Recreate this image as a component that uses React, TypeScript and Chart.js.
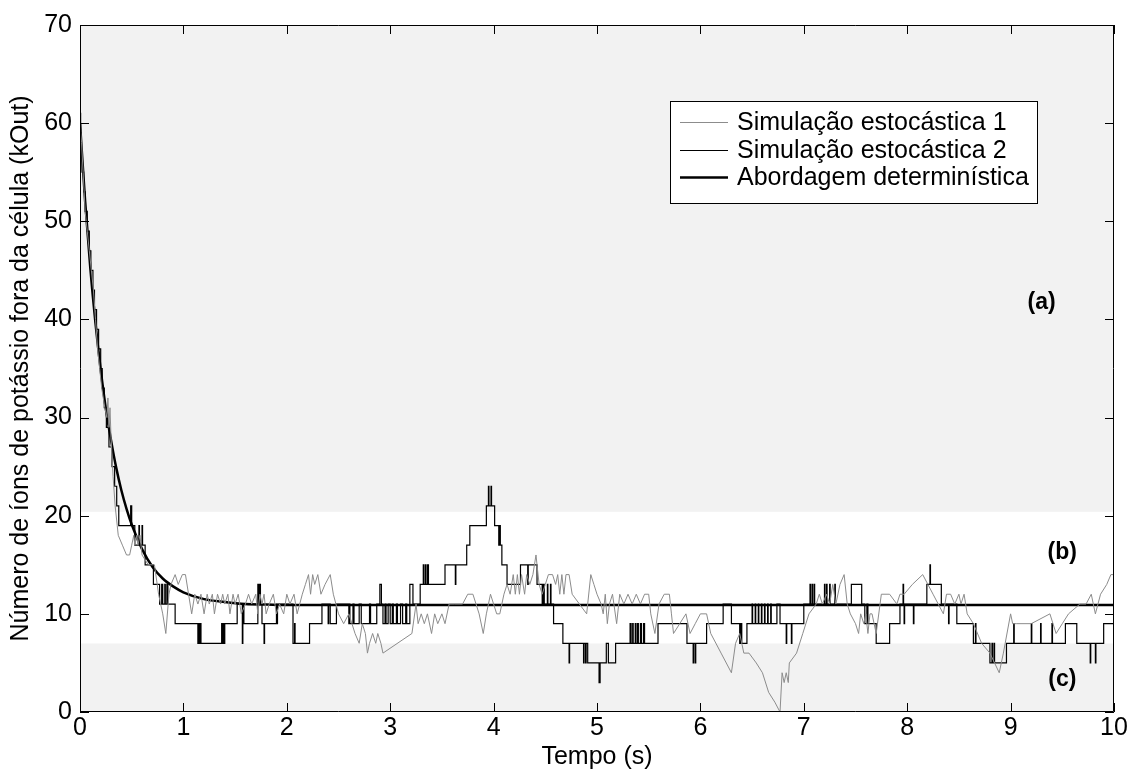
import React, { useEffect, useRef } from "react";
import { Chart, registerables } from "chart.js";

Chart.register(...registerables);

// ---------- DATA ----------
const xTicks = [0, 1, 2, 3, 4, 5, 6, 7, 8, 9, 10];
const yTicks = [0, 10, 20, 30, 40, 50, 60, 70];

const seriesLabels = [
  "Simulação estocástica 1",
  "Simulação estocástica 2",
  "Abordagem determinística",
];

// zone bands (value limits) for (c), (b), (a)
const bandLimits = [0, 7, 20.4, 70];
const zoneLabels = ["(c)", "(b)", "(a)"];
const zoneLabelT = [9.5, 9.5, 9.3];
const zoneLabelY = [3.3, 16.2, 41.7];

// deterministic approach
const detT = [0, 0.05, 0.1, 0.15, 0.2, 0.25, 0.3, 0.35, 0.4, 0.45, 0.5, 0.6, 0.7, 0.8, 0.9, 1.0, 1.2, 1.4, 1.6, 1.8, 2.0, 2.5, 3, 4, 5, 6, 7, 8, 9, 10];
const detY = [60.0, 52.0, 45.2, 39.6, 34.9, 30.9, 27.7, 24.9, 22.6, 20.7, 19.1, 16.6, 14.8, 13.6, 12.8, 12.2, 11.5, 11.2, 11.0, 10.95, 10.9, 10.9, 10.9, 10.9, 10.9, 10.9, 10.9, 10.9, 10.9, 10.9];

// stochastic simulation 1 (grey)
const s1T = [0, 0.015, 0.03, 0.05, 0.07, 0.09, 0.11, 0.13, 0.15, 0.17, 0.19, 0.21, 0.24, 0.26, 0.27, 0.28, 0.29, 0.3, 0.32, 0.34, 0.36, 0.37, 0.41, 0.45, 0.48, 0.5, 0.52, 0.53, 0.55, 0.56, 0.58, 0.6, 0.66, 0.72, 0.76, 0.8, 0.83, 0.86, 0.88, 0.92, 0.95, 0.99, 1.02, 1.05, 1.08, 1.11, 1.14, 1.17, 1.2, 1.23, 1.25, 1.28, 1.3, 1.33, 1.36, 1.38, 1.4, 1.43, 1.45, 1.48, 1.5, 1.53, 1.56, 1.6, 1.63, 1.66, 1.7, 1.72, 1.74, 1.76, 1.78, 1.8, 1.83, 1.87, 1.9, 1.93, 1.97, 2.0, 2.03, 2.07, 2.1, 2.15, 2.18, 2.21, 2.23, 2.25, 2.27, 2.3, 2.33, 2.37, 2.42, 2.45, 2.5, 2.55, 2.6, 2.63, 2.66, 2.7, 2.73, 2.76, 2.78, 2.8, 2.83, 2.86, 2.88, 2.91, 2.93, 3.21, 3.25, 3.27, 3.3, 3.33, 3.36, 3.4, 3.43, 3.46, 3.5, 3.53, 3.57, 3.62, 3.7, 3.75, 3.8, 3.83, 3.86, 3.9, 3.93, 3.97, 4.0, 4.03, 4.06, 4.1, 4.13, 4.16, 4.19, 4.21, 4.23, 4.25, 4.27, 4.3, 4.32, 4.35, 4.38, 4.41, 4.44, 4.47, 4.5, 4.53, 4.57, 4.6, 4.62, 4.64, 4.66, 4.68, 4.7, 4.73, 4.76, 4.83, 4.9, 4.94, 4.97, 5.0, 5.04, 5.06, 5.08, 5.1, 5.12, 5.15, 5.19, 5.22, 5.26, 5.3, 5.34, 5.38, 5.42, 5.46, 5.5, 5.52, 5.56, 5.6, 5.65, 5.7, 5.72, 5.74, 5.8, 5.86, 5.9, 5.95, 6.0, 6.06, 6.1, 6.2, 6.3, 6.34, 6.38, 6.42, 6.47, 6.54, 6.6, 6.66, 6.72, 6.77, 6.79, 6.81, 6.83, 6.85, 6.86, 6.93, 6.99, 7.05, 7.12, 7.15, 7.18, 7.22, 7.25, 7.28, 7.31, 7.35, 7.39, 7.42, 7.45, 7.5, 7.53, 7.55, 7.58, 7.6, 7.62, 7.64, 7.66, 7.7, 7.75, 7.83, 7.9, 7.93, 7.97, 8.05, 8.15, 8.2, 8.25, 8.3, 8.35, 8.38, 8.42, 8.46, 8.5, 8.52, 8.55, 8.58, 8.64, 8.72, 8.8, 8.89, 8.93, 9.0, 9.02, 9.06, 9.2, 9.38, 9.44, 9.5, 9.56, 9.67, 9.73, 9.78, 9.82, 9.87, 9.93, 9.97, 10];
const s1Y = [60, 58, 55, 51, 49, 47, 45, 43, 40, 37, 35, 33, 31, 30, 32, 29, 31, 28, 24, 21, 19, 18, 17, 16, 16, 17, 18, 17, 18, 17, 18, 16, 15, 15, 12, 10, 8, 12, 13, 14, 13, 14, 14, 12, 10, 12, 11, 12, 10, 12, 11, 12, 10, 12, 11, 12, 11, 12, 10, 12, 11, 12, 10, 11, 12, 11, 12, 10, 12, 11, 12, 10, 11, 12, 10, 11, 10, 12, 11, 12, 10, 12, 13, 14, 12, 14, 13, 14, 12, 13, 14, 12, 10, 9, 10, 9, 8, 7, 9, 8, 6, 7, 8, 7, 8, 7, 6, 8, 11, 9, 10, 9, 10, 8, 10, 9, 10, 9, 11, 11, 11, 12, 12, 11, 10, 8, 10, 12, 11, 10, 10, 12, 13, 12, 14, 12, 14, 12, 14, 12, 14, 13, 14, 16, 13, 12, 13, 14, 14, 13, 14, 12, 14, 12, 14, 14, 12, 11, 10, 14, 13, 12, 11, 10, 12, 9, 11, 12, 9, 12, 11, 12, 11, 12, 11, 12, 12, 10, 8, 11, 12, 12, 10, 8, 9, 10, 8, 9, 10, 10, 8, 6, 4, 7, 8, 6, 6, 5, 4, 2, 1, 0, 4, 3, 4, 3, 5, 6, 8, 10, 11, 12, 11, 12, 11, 13, 11, 13, 14, 11, 10, 9, 8, 10, 9, 10, 8, 10, 10, 8, 12, 12, 11, 12, 12, 13, 14, 13, 12, 11, 10, 12, 12, 11, 12, 11, 12, 10, 9, 7, 6, 4, 6, 10, 9, 9, 9, 10, 8, 9, 10, 11, 11, 12, 10, 12, 13, 14, 14];

// stochastic simulation 2 (black, stairs)
const s2T = [0, 0.006, 0.012, 0.02, 0.035, 0.05, 0.07, 0.09, 0.105, 0.125, 0.14, 0.16, 0.18, 0.2, 0.215, 0.235, 0.255, 0.28, 0.31, 0.335, 0.355, 0.375, 0.49, 0.5, 0.53, 0.57, 0.575, 0.6, 0.605, 0.63, 0.71, 0.77, 0.79, 0.8, 0.82, 0.825, 0.84, 0.85, 0.92, 1.14, 1.15, 1.155, 1.165, 1.17, 1.37, 1.375, 1.385, 1.39, 1.4, 1.52, 1.57, 1.575, 1.585, 1.72, 1.73, 1.735, 1.745, 1.76, 1.78, 1.785, 1.9, 1.905, 1.91, 2.06, 2.075, 2.08, 2.22, 2.34, 2.4, 2.405, 2.42, 2.48, 2.6, 2.605, 2.61, 2.64, 2.65, 2.7, 2.72, 2.8, 2.81, 2.87, 2.9, 2.915, 2.93, 2.95, 2.96, 2.98, 3.0, 3.02, 3.03, 3.06, 3.07, 3.1, 3.12, 3.15, 3.16, 3.19, 3.22, 3.29, 3.32, 3.325, 3.34, 3.345, 3.36, 3.37, 3.53, 3.63, 3.635, 3.74, 3.77, 3.93, 3.95, 3.955, 3.975, 3.98, 4.01, 4.05, 4.06, 4.065, 4.08, 4.13, 4.26, 4.33, 4.335, 4.42, 4.47, 4.48, 4.49, 4.52, 4.525, 4.55, 4.555, 4.58, 4.67, 4.73, 4.735, 4.87, 4.875, 4.89, 4.895, 4.91, 5.02, 5.03, 5.09, 5.11, 5.18, 5.32, 5.33, 5.345, 5.35, 5.37, 5.375, 5.39, 5.4, 5.42, 5.43, 5.45, 5.46, 5.59, 5.87, 5.93, 5.935, 5.95, 5.955, 6.06, 6.22, 6.3, 6.38, 6.39, 6.4, 6.45, 6.5, 6.505, 6.53, 6.535, 6.56, 6.565, 6.59, 6.595, 6.62, 6.625, 6.65, 6.655, 6.68, 6.685, 6.74, 6.77, 6.83, 6.835, 6.88, 6.885, 7.0, 7.06, 7.065, 7.08, 7.085, 7.1, 7.105, 7.2, 7.205, 7.22, 7.225, 7.25, 7.255, 7.3, 7.305, 7.46, 7.56, 7.59, 7.61, 7.62, 7.7, 7.83, 7.93, 7.96, 7.965, 7.97, 7.975, 8.06, 8.065, 8.19, 8.22, 8.225, 8.33, 8.4, 8.405, 8.48, 8.64, 8.66, 8.665, 8.8, 8.82, 8.825, 8.84, 8.845, 8.96, 9.03, 9.035, 9.2, 9.205, 9.29, 9.295, 9.4, 9.405, 9.53, 9.64, 9.77, 9.775, 9.82, 9.825, 9.9, 10];
const s2Y = [61, 59, 57, 55, 53, 51, 49, 47, 45, 43, 41, 39, 37, 35, 33, 31, 29, 27, 25, 23, 21, 19, 21, 19, 17, 19, 17, 19, 17, 15, 13, 11, 13, 11, 13, 11, 13, 11, 9, 7, 9, 7, 9, 7, 9, 7, 9, 7, 9, 11, 7, 11, 9, 13, 11, 13, 11, 9, 7, 9, 11, 9, 11, 7, 9, 7, 9, 11, 9, 11, 9, 11, 9, 11, 9, 11, 9, 11, 9, 11, 9, 11, 13, 11, 9, 11, 9, 11, 9, 11, 9, 11, 9, 11, 9, 11, 9, 13, 11, 13, 15, 13, 15, 13, 15, 13, 15, 13, 15, 17, 19, 21, 23, 21, 23, 21, 19, 17, 19, 17, 15, 13, 15, 13, 15, 13, 11, 13, 11, 13, 11, 13, 11, 9, 7, 5, 7, 5, 7, 5, 7, 5, 3, 5, 7, 5, 7, 9, 7, 9, 7, 9, 7, 9, 7, 9, 7, 9, 7, 9, 7, 5, 7, 5, 7, 9, 11, 9, 7, 9, 7, 9, 11, 9, 11, 9, 11, 9, 11, 9, 11, 9, 11, 9, 11, 9, 11, 9, 7, 9, 7, 9, 11, 13, 11, 13, 11, 13, 11, 13, 11, 13, 11, 13, 11, 13, 11, 13, 11, 9, 11, 9, 7, 9, 11, 13, 11, 9, 11, 9, 11, 13, 15, 13, 11, 9, 11, 9, 7, 9, 7, 5, 7, 5, 7, 5, 7, 9, 7, 9, 7, 9, 7, 9, 7, 9, 7, 5, 7, 5, 7, 9, 9];

// ---------- STYLE ----------
const FONT = "'Liberation Sans', Arial, Helvetica, sans-serif";
const GREY_LINE = "#8c8c8c";
const BAND_COLORS = ["#f2f2f2", "#ffffff", "#f2f2f2"];

const toPts = (t: number[], y: number[]) => t.map((x, i) => ({ x, y: y[i] }));

const decorPlugin = {
  id: "decor",
  beforeDatasetsDraw(chart: any) {
    const { ctx, chartArea } = chart;
    const ys = chart.scales.y;
    ctx.save();
    for (let i = 0; i < bandLimits.length - 1; i++) {
      const yTop = ys.getPixelForValue(bandLimits[i + 1]);
      const yBot = ys.getPixelForValue(bandLimits[i]);
      ctx.fillStyle = BAND_COLORS[i];
      ctx.fillRect(chartArea.left, yTop, chartArea.right - chartArea.left, yBot - yTop);
    }
    ctx.restore();
  },
  afterDatasetsDraw(chart: any) {
    const { ctx, chartArea } = chart;
    const xs = chart.scales.x;
    const ys = chart.scales.y;
    const { left, right, top, bottom } = chartArea;
    const tl = 9;
    ctx.save();
    // zone labels
    ctx.fillStyle = "#000";
    ctx.font = `bold 23px ${FONT}`;
    ctx.textAlign = "center";
    ctx.textBaseline = "middle";
    for (let i = 0; i < zoneLabels.length; i++) {
      ctx.fillText(zoneLabels[i], xs.getPixelForValue(zoneLabelT[i]), ys.getPixelForValue(zoneLabelY[i]));
    }
    // axes box and inward ticks
    ctx.strokeStyle = "#000";
    ctx.lineWidth = 1;
    ctx.beginPath();
    ctx.rect(left + 0.5, top + 0.5, right - left - 1, bottom - top - 1);
    for (const v of xTicks) {
      const px = Math.round(xs.getPixelForValue(v)) + 0.5;
      ctx.moveTo(px, bottom);
      ctx.lineTo(px, bottom - tl);
      ctx.moveTo(px, top);
      ctx.lineTo(px, top + tl);
    }
    for (const v of yTicks) {
      const py = Math.round(ys.getPixelForValue(v)) + 0.5;
      ctx.moveTo(left, py);
      ctx.lineTo(left + tl, py);
      ctx.moveTo(right, py);
      ctx.lineTo(right - tl, py);
    }
    ctx.stroke();

    // legend
    const lx = 670, ly = 101, lw = 367, lh = 102;
    ctx.fillStyle = "#fff";
    ctx.fillRect(lx, ly, lw, lh);
    ctx.strokeRect(lx + 0.5, ly + 0.5, lw, lh);
    const rowsY = [122, 150, 177];
    const ds = chart.data.datasets;
    ctx.font = `25px ${FONT}`;
    ctx.textAlign = "left";
    ctx.textBaseline = "middle";
    for (let i = 0; i < ds.length; i++) {
      ctx.beginPath();
      ctx.strokeStyle = ds[i].borderColor;
      ctx.lineWidth = ds[i].borderWidth;
      ctx.moveTo(680, rowsY[i] + 0.5);
      ctx.lineTo(728, rowsY[i] + 0.5);
      ctx.stroke();
      ctx.fillStyle = "#000";
      ctx.fillText(ds[i].label, 737, rowsY[i] + 1);
    }
    ctx.restore();
  },
};

export default function App() {
  const ref = useRef<HTMLCanvasElement | null>(null);
  useEffect(() => {
    document.body.style.margin = "0";
    const canvas = ref.current!;
    const chart = new Chart(canvas, {
      type: "line",
      data: {
        datasets: [
          {
            label: seriesLabels[0],
            data: toPts(s1T, s1Y),
            borderColor: GREY_LINE,
            borderWidth: 1,
            pointRadius: 0,
            tension: 0,
          },
          {
            label: seriesLabels[1],
            data: toPts(s2T, s2Y),
            borderColor: "#000",
            borderWidth: 1.2,
            pointRadius: 0,
            stepped: true,
          },
          {
            label: seriesLabels[2],
            data: toPts(detT, detY),
            borderColor: "#000",
            borderWidth: 2.5,
            pointRadius: 0,
            cubicInterpolationMode: "monotone",
          },
        ],
      } as any,
      options: {
        responsive: false,
        animation: false,
        events: [],
        layout: { padding: { top: 25, right: 15, left: 0, bottom: 0 } },
        plugins: { legend: { display: false }, tooltip: { enabled: false } },
        scales: {
          x: {
            type: "linear",
            min: 0,
            max: 10,
            afterFit: (s: any) => { s.height = 60; },
            afterBuildTicks: (s: any) => { s.ticks = xTicks.map((v) => ({ value: v })); },
            ticks: { color: "#000", font: { family: FONT, size: 25 }, padding: 1, maxRotation: 0, autoSkip: false },
            grid: { display: false, drawTicks: false },
            border: { display: false },
            title: { display: true, text: "Tempo (s)", color: "#000", font: { family: FONT, size: 25 }, padding: { top: 0, bottom: 0 } },
          },
          y: {
            type: "linear",
            min: 0,
            max: 70,
            afterFit: (s: any) => { s.width = 80; },
            afterBuildTicks: (s: any) => { s.ticks = yTicks.map((v) => ({ value: v })); },
            ticks: { color: "#000", font: { family: FONT, size: 25 }, padding: 8 },
            grid: { display: false, drawTicks: false },
            border: { display: false },
            title: { display: true, text: "Número de íons de potássio fora da célula (kOut)", color: "#000", font: { family: FONT, size: 25 }, padding: { top: 6, bottom: 0 } },
          },
        },
      } as any,
      plugins: [decorPlugin],
    });
    return () => chart.destroy();
  }, []);
  return (
    <div style={{ position: "fixed", left: 0, top: 0, width: 1129, height: 772, background: "#fff" }}>
      <canvas ref={ref} width={1129} height={772} />
    </div>
  );
}
